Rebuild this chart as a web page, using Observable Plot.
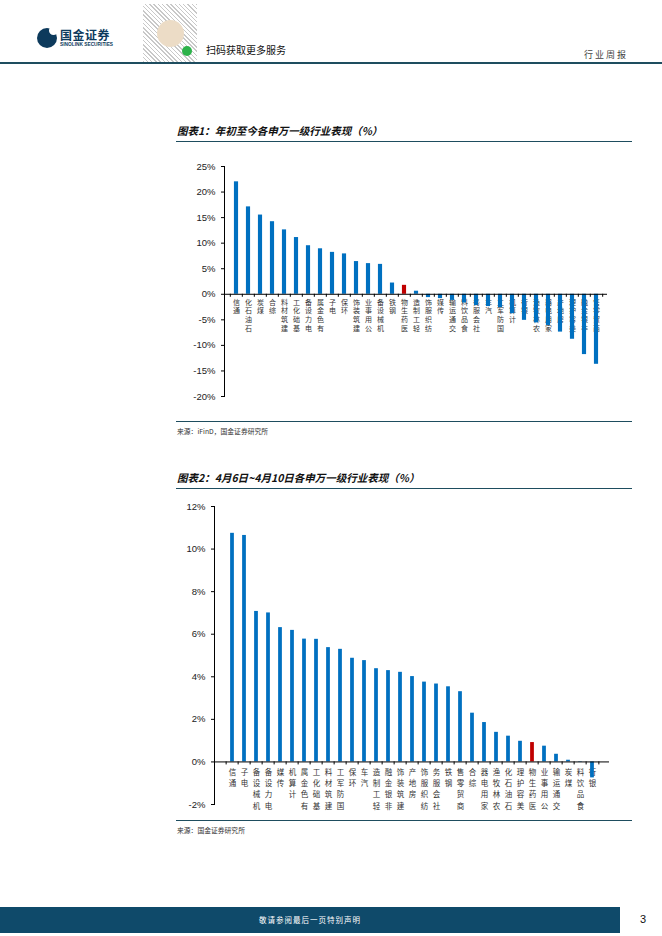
<!DOCTYPE html>
<html>
<head>
<meta charset="utf-8">
<script src="https://cdn.jsdelivr.net/npm/d3@7"></script>
<script src="https://cdn.jsdelivr.net/npm/@observablehq/plot@0.6"></script>
<style>
  body { margin: 0; background: #fff; }
  #page { position: relative; width: 662px; height: 936px; background: #fff; overflow: hidden; font-family: "Noto Sans CJK SC", "Noto Sans", sans-serif; }
  .abs { position: absolute; }
  .title { font-weight: 700; font-style: italic; font-size: 10.5px; color: #111; white-space: nowrap; line-height: 15px; }
  .rule { background: #1e4d5f; height: 1.5px; }
  .src { font-size: 6.8px; color: #333; white-space: nowrap; line-height: 10px; }
</style>
</head>
<body>
<div id="page">
  <!-- header -->
  <div class="abs" style="left:37px;top:28px;width:20px;height:20px;border-radius:50%;background:#0d3a5c;"></div>
  <div class="abs" style="left:49px;top:26px;width:9px;height:9px;border-radius:50%;background:#fff;"></div>
  <div class="abs" style="left:60px;top:27px;font-size:12px;font-weight:700;color:#0d3a5c;letter-spacing:0.5px;line-height:15px;">国金证券</div>
  <div class="abs" style="left:60px;top:42px;font-size:4.8px;font-weight:700;color:#0d3a5c;line-height:6px;font-family:'Liberation Sans',Arial,sans-serif;white-space:nowrap;">SINOLINK SECURITIES</div>
  <div class="abs" style="left:143px;top:4px;width:54px;height:58px;background:repeating-linear-gradient(45deg,#bbb 0 1px,#fff 1px 3px),repeating-linear-gradient(-45deg,#ccc 0 1px,transparent 1px 4px);opacity:0.8;"></div>
  <div class="abs" style="left:157px;top:20px;width:27px;height:27px;border-radius:50%;background:#ecdcc6;"></div>
  <div class="abs" style="left:182px;top:46px;width:10px;height:10px;border-radius:50%;background:#2db24a;"></div>
  <div class="abs" style="left:206px;top:43px;font-size:10px;color:#111;line-height:13px;white-space:nowrap;">扫码获取更多服务</div>
  <div class="abs" style="left:584px;top:49px;font-size:9px;color:#444;letter-spacing:2px;line-height:12px;white-space:nowrap;">行业周报</div>
  <div class="abs rule" style="left:0;top:62px;width:662px;"></div>

  <!-- chart 1 -->
  <div class="abs title" style="left:177px;top:123px;">图表1：年初至今各申万一级行业表现（%）</div>
  <div class="abs rule" style="left:176px;top:140.5px;width:456px;"></div>
  <div class="abs" id="chart1" style="left:160px;top:150px;"></div>
  <div class="abs rule" style="left:176px;top:420.5px;width:456px;"></div>
  <div class="abs src" style="left:177px;top:426px;">来源：iFinD，国金证券研究所</div>

  <!-- chart 2 -->
  <div class="abs title" style="left:177px;top:470px;">图表2：4月6日~4月10日各申万一级行业表现（%）</div>
  <div class="abs rule" style="left:176px;top:487.5px;width:456px;"></div>
  <div class="abs" id="chart2" style="left:150px;top:490px;"></div>
  <div class="abs rule" style="left:176px;top:819.5px;width:456px;"></div>
  <div class="abs src" style="left:177px;top:825px;">来源：国金证券研究所</div>

  <!-- footer -->
  <div class="abs" style="left:0;top:907px;width:620px;height:26px;background:#0f4a6a;"></div>
  <div class="abs" style="left:0;top:914px;width:620px;text-align:center;font-size:7.5px;color:#fff;letter-spacing:1px;line-height:12px;">敬请参阅最后一页特别声明</div>
  <div class="abs" style="left:640px;top:912px;font-size:11px;color:#111;line-height:14px;font-family:'Liberation Sans',Arial,sans-serif;">3</div>
</div>

<script>
// ---------- data ----------
const ytdCats = ["通信","石油石化","煤炭","综合","建筑材料","基础化工","电力设备","有色金属","电子","环保","建筑装饰","公用事业","机械设备","钢铁","医药生物","轻工制造","纺织服饰","传媒","交通运输","食品饮料","社会服务","汽车","国防军工","计算机","银行","农林牧渔","家用电器","房地产","美容护理","非银金融","商贸零售"];
const ytdVals = [22.0,17.1,15.5,14.2,12.6,11.1,9.5,8.9,8.2,7.9,6.4,6.0,5.85,2.2,1.75,0.6,-0.65,-0.85,-1.2,-1.7,-2.2,-2.4,-2.6,-3.8,-5.1,-5.6,-6.1,-7.4,-8.8,-11.8,-13.7];
const ytdTicks = [-20,-15,-10,-5,0,5,10,15,20,25];

const weekCats = ["通信","电子","机械设备","电力设备","传媒","计算机","有色金属","基础化工","建筑材料","国防军工","环保","汽车","轻工制造","非银金融","建筑装饰","房地产","纺织服饰","社会服务","钢铁","商贸零售","综合","家用电器","农林牧渔","石油石化","美容护理","医药生物","公用事业","交通运输","煤炭","食品饮料","银行"];
const weekVals = [10.74,10.64,7.07,7.0,6.31,6.18,5.77,5.76,5.37,5.29,4.87,4.76,4.38,4.29,4.21,4.01,3.75,3.66,3.53,3.3,2.29,1.85,1.39,1.21,0.97,0.91,0.74,0.36,0.08,0.02,-0.75];
const weekTicks = [-2,0,2,4,6,8,10,12];

const highlight = "医药生物";
const blue = "#0070C0", red = "#C00000";

function makeChart(cats, vals, ticks, opt) {
  const data = cats.map((c, i) => ({name: c, value: vals[i]}));
  const n = cats.length;
  const step = (opt.width - opt.marginLeft - opt.marginRight) / n;
  const inset = (step - opt.barWidth) / 2;
  const pxPerUnit = (opt.height - opt.marginTop - opt.marginBottom) / (opt.domain[1] - opt.domain[0]);
  const tickLen = 3 / pxPerUnit;
  return Plot.plot({
    width: opt.width, height: opt.height,
    marginLeft: opt.marginLeft, marginRight: opt.marginRight,
    marginTop: opt.marginTop, marginBottom: opt.marginBottom,
    style: {fontFamily: "'Liberation Sans', Arial, sans-serif", fontSize: opt.tickFont + "px", color: "#000", background: "transparent", overflow: "visible"},
    x: {domain: cats, padding: 0, axis: null},
    y: {domain: opt.domain, axis: null},
    marks: [
      Plot.axisY({ticks, tickFormat: d => d + "%", tickSize: 3, tickPadding: 6, label: null, fill: "#222"}),
      Plot.frame({anchor: "left", stroke: "#000"}),
      Plot.text(data, {
        x: "name", y: 0,
        text: d => [...d.name].reverse().join("\n"),
        lineAnchor: "top", dy: opt.labelDy,
        fontSize: opt.labelFont, lineHeight: opt.labelLH,
        fontFamily: "'Noto Sans CJK SC', sans-serif", fill: "#333"
      }),
      Plot.barY(data, {x: "name", y: "value", fill: d => d.name === highlight ? red : blue, insetLeft: inset, insetRight: inset}),
      Plot.ruleY([0], {stroke: "#000", strokeWidth: 1}),
      Plot.ruleX(cats, {x: d => d, y1: 0, y2: -tickLen, dx: -step / 2, stroke: "#000"}),
      Plot.ruleX([cats[n - 1]], {x: d => d, y1: 0, y2: -tickLen, dx: step / 2, stroke: "#000"})
    ]
  });
}

document.getElementById("chart1").appendChild(makeChart(ytdCats, ytdVals, ytdTicks, {
  width: 480, height: 260, marginLeft: 64, marginRight: 33, marginTop: 16, marginBottom: 14,
  domain: [-20, 25], barWidth: 4.5, tickFont: 9.5, labelFont: 7, labelLH: 1.26, labelDy: 4
}));

document.getElementById("chart2").appendChild(makeChart(weekCats, weekVals, weekTicks, {
  width: 480, height: 330, marginLeft: 64, marginRight: 21, marginTop: 16, marginBottom: 16,
  domain: [-2, 12], barWidth: 4.5, tickFont: 9.5, labelFont: 7.5, labelLH: 1.5, labelDy: 5
}));
</script>
</body>
</html>
